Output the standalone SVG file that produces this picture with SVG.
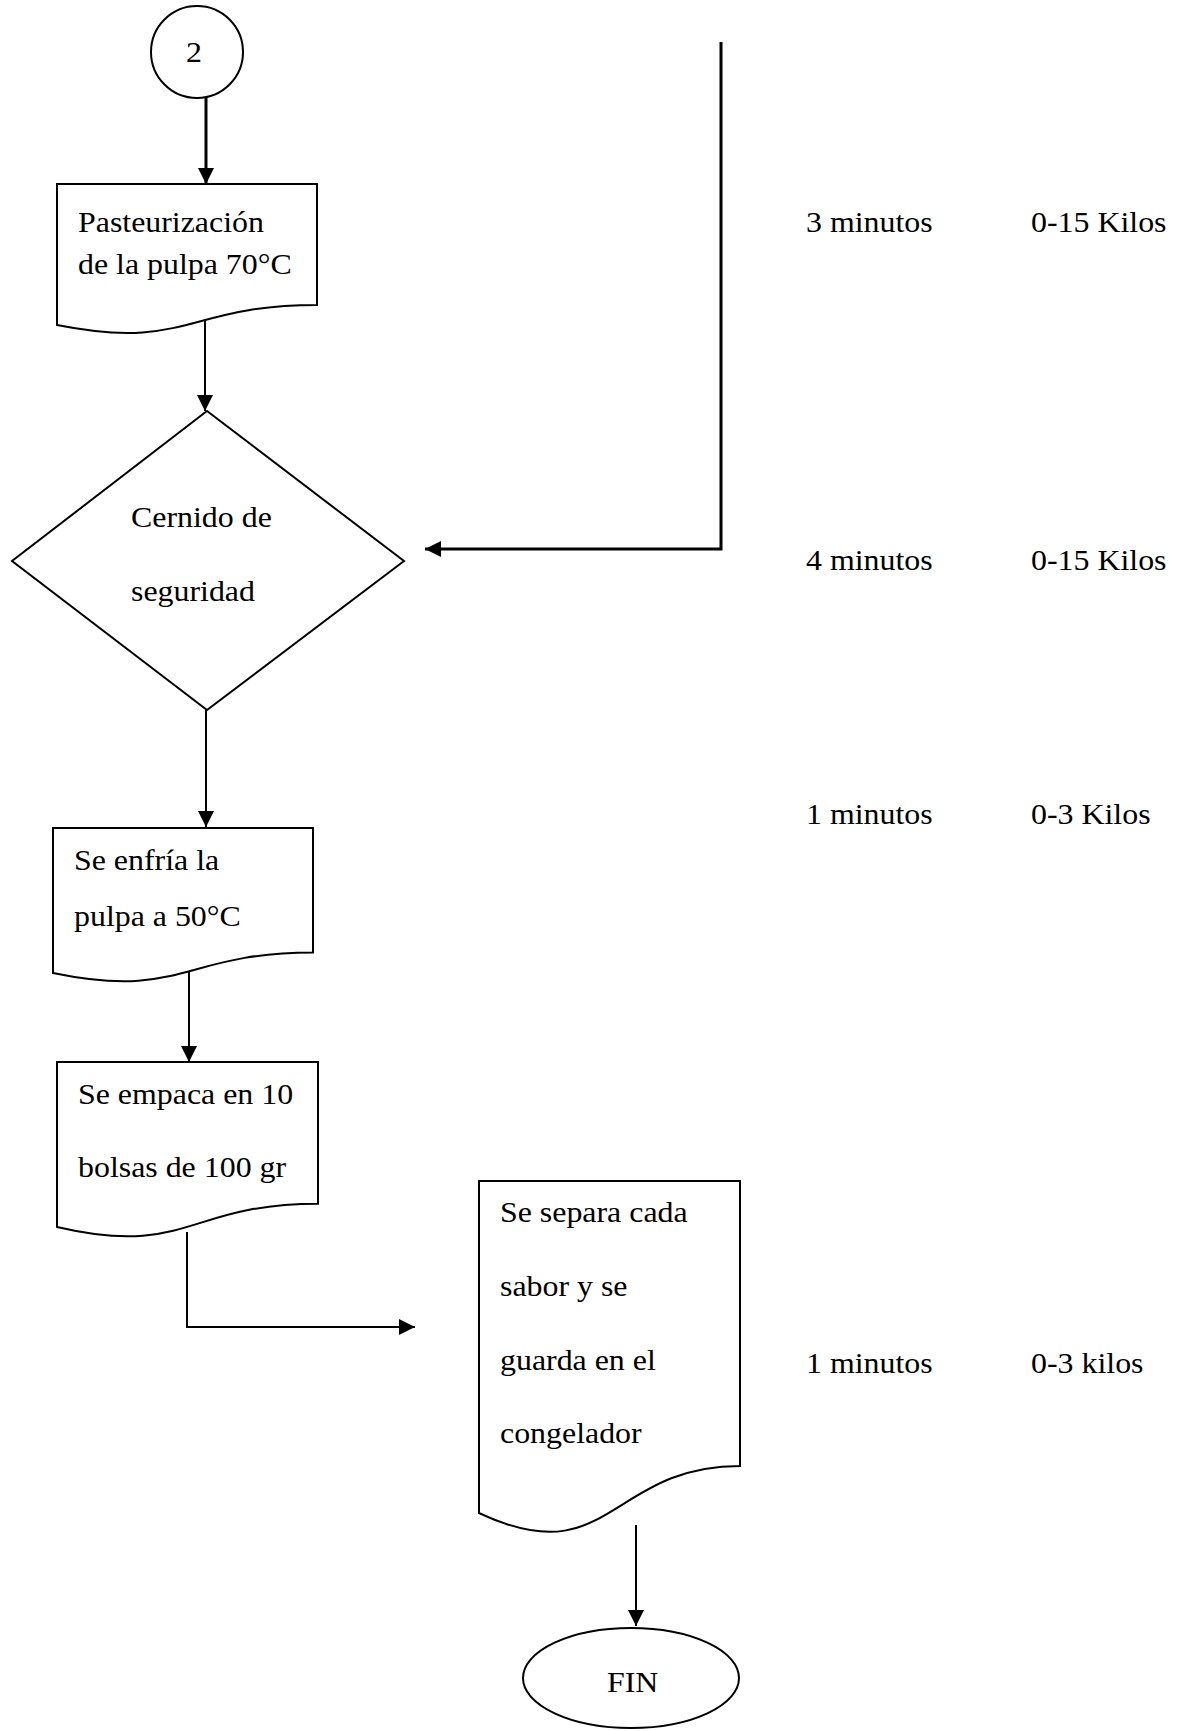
<svg xmlns="http://www.w3.org/2000/svg" width="1187" height="1731" viewBox="0 0 1187 1731">
  <style>
    .shape { fill: #ffffff; stroke: #000000; stroke-width: 2; }
    .wire { fill: none; stroke: #000000; stroke-width: 2; }
    .wire.heavy { stroke-width: 3; }
    .label { font-family: "Liberation Serif", "Times New Roman", serif; font-size: 29px; fill: #000000; }
  </style>
  <defs>
    <marker id="head" markerUnits="userSpaceOnUse" markerWidth="17" markerHeight="17" viewBox="0 0 17 17" refX="16" refY="8.5" orient="auto">
      <path d="M0,0.5 L16,8.5 L0,16.5 Z" fill="#000000"/>
    </marker>
  </defs>

  <rect width="1187" height="1731" fill="#ffffff"/>

  <!-- connectors -->
  <g id="connectors">
    <path class="wire heavy" d="M206,97 V184" marker-end="url(#head)"/>
    <path class="wire" d="M205,320 V411" marker-end="url(#head)"/>
    <path class="wire" d="M206,710 V827" marker-end="url(#head)"/>
    <path class="wire" d="M189,972 V1062" marker-end="url(#head)"/>
    <path class="wire" d="M187,1232 V1327 H415" marker-end="url(#head)"/>
    <path class="wire heavy" d="M721,42 V549 H425" marker-end="url(#head)"/>
    <path class="wire" d="M636,1525 V1626" marker-end="url(#head)"/>
  </g>

  <!-- connector 2 -->
  <g id="node-connector-2">
    <circle class="shape" cx="197" cy="52" r="46"/>
    <text class="label" y="62" transform="translate(186 0) scale(1.1 1)">2</text>
  </g>

  <!-- pasteurization -->
  <g id="node-pasteurizacion">
    <path class="shape" d="M57,184 H317 V305 C187,305 187,351 57,325 Z"/>
    <text class="label" y="232" transform="translate(78 0) scale(1.1 1)">Pasteurización</text>
    <text class="label" y="274" transform="translate(78 0) scale(1.1 1)">de la pulpa 70°C</text>
  </g>

  <!-- safety sieving -->
  <g id="node-cernido">
    <path class="shape" d="M207,411 L404,561 L207,710 L12,561 Z"/>
    <text class="label" y="527" transform="translate(131 0) scale(1.1 1)">Cernido de</text>
    <text class="label" y="601" transform="translate(131 0) scale(1.1 1)">seguridad</text>
  </g>

  <!-- cooling -->
  <g id="node-enfria">
    <path class="shape" d="M53,828 H313 V952.5 C183,952.5 183,1000 53,973 Z"/>
    <text class="label" y="870" transform="translate(74 0) scale(1.1 1)">Se enfría la</text>
    <text class="label" y="926" transform="translate(74 0) scale(1.1 1)">pulpa a 50°C</text>
  </g>

  <!-- packing -->
  <g id="node-empaca">
    <path class="shape" d="M57,1062 H318 V1203.7 C187.5,1203.7 187.5,1257.6 57,1227 Z"/>
    <text class="label" y="1104" transform="translate(78 0) scale(1.1 1)">Se empaca en 10</text>
    <text class="label" y="1177" transform="translate(78 0) scale(1.1 1)">bolsas de 100 gr</text>
  </g>

  <!-- freezing -->
  <g id="node-congelador">
    <path class="shape" d="M479,1181 H740 V1466 C609.5,1466 609.5,1574.5 479,1513 Z"/>
    <text class="label" y="1222" transform="translate(500 0) scale(1.1 1)">Se separa cada</text>
    <text class="label" y="1296" transform="translate(500 0) scale(1.1 1)">sabor y se</text>
    <text class="label" y="1370" transform="translate(500 0) scale(1.1 1)">guarda en el</text>
    <text class="label" y="1443" transform="translate(500 0) scale(1.1 1)">congelador</text>
  </g>

  <!-- end -->
  <g id="node-fin">
    <ellipse class="shape" cx="631" cy="1678" rx="108" ry="50"/>
    <text class="label" y="1692" transform="translate(607 0) scale(1.1 1)">FIN</text>
  </g>

  <!-- time and quantity column -->
  <g id="times">
    <text class="label" y="232" transform="translate(806 0) scale(1.1 1)">3 minutos</text>
    <text class="label" y="232" transform="translate(1031 0) scale(1.1 1)">0-15 Kilos</text>
    <text class="label" y="570" transform="translate(806 0) scale(1.1 1)">4 minutos</text>
    <text class="label" y="570" transform="translate(1031 0) scale(1.1 1)">0-15 Kilos</text>
    <text class="label" y="824" transform="translate(806 0) scale(1.1 1)">1 minutos</text>
    <text class="label" y="824" transform="translate(1031 0) scale(1.1 1)">0-3 Kilos</text>
    <text class="label" y="1373" transform="translate(806 0) scale(1.1 1)">1 minutos</text>
    <text class="label" y="1373" transform="translate(1031 0) scale(1.1 1)">0-3 kilos</text>
  </g>
</svg>
